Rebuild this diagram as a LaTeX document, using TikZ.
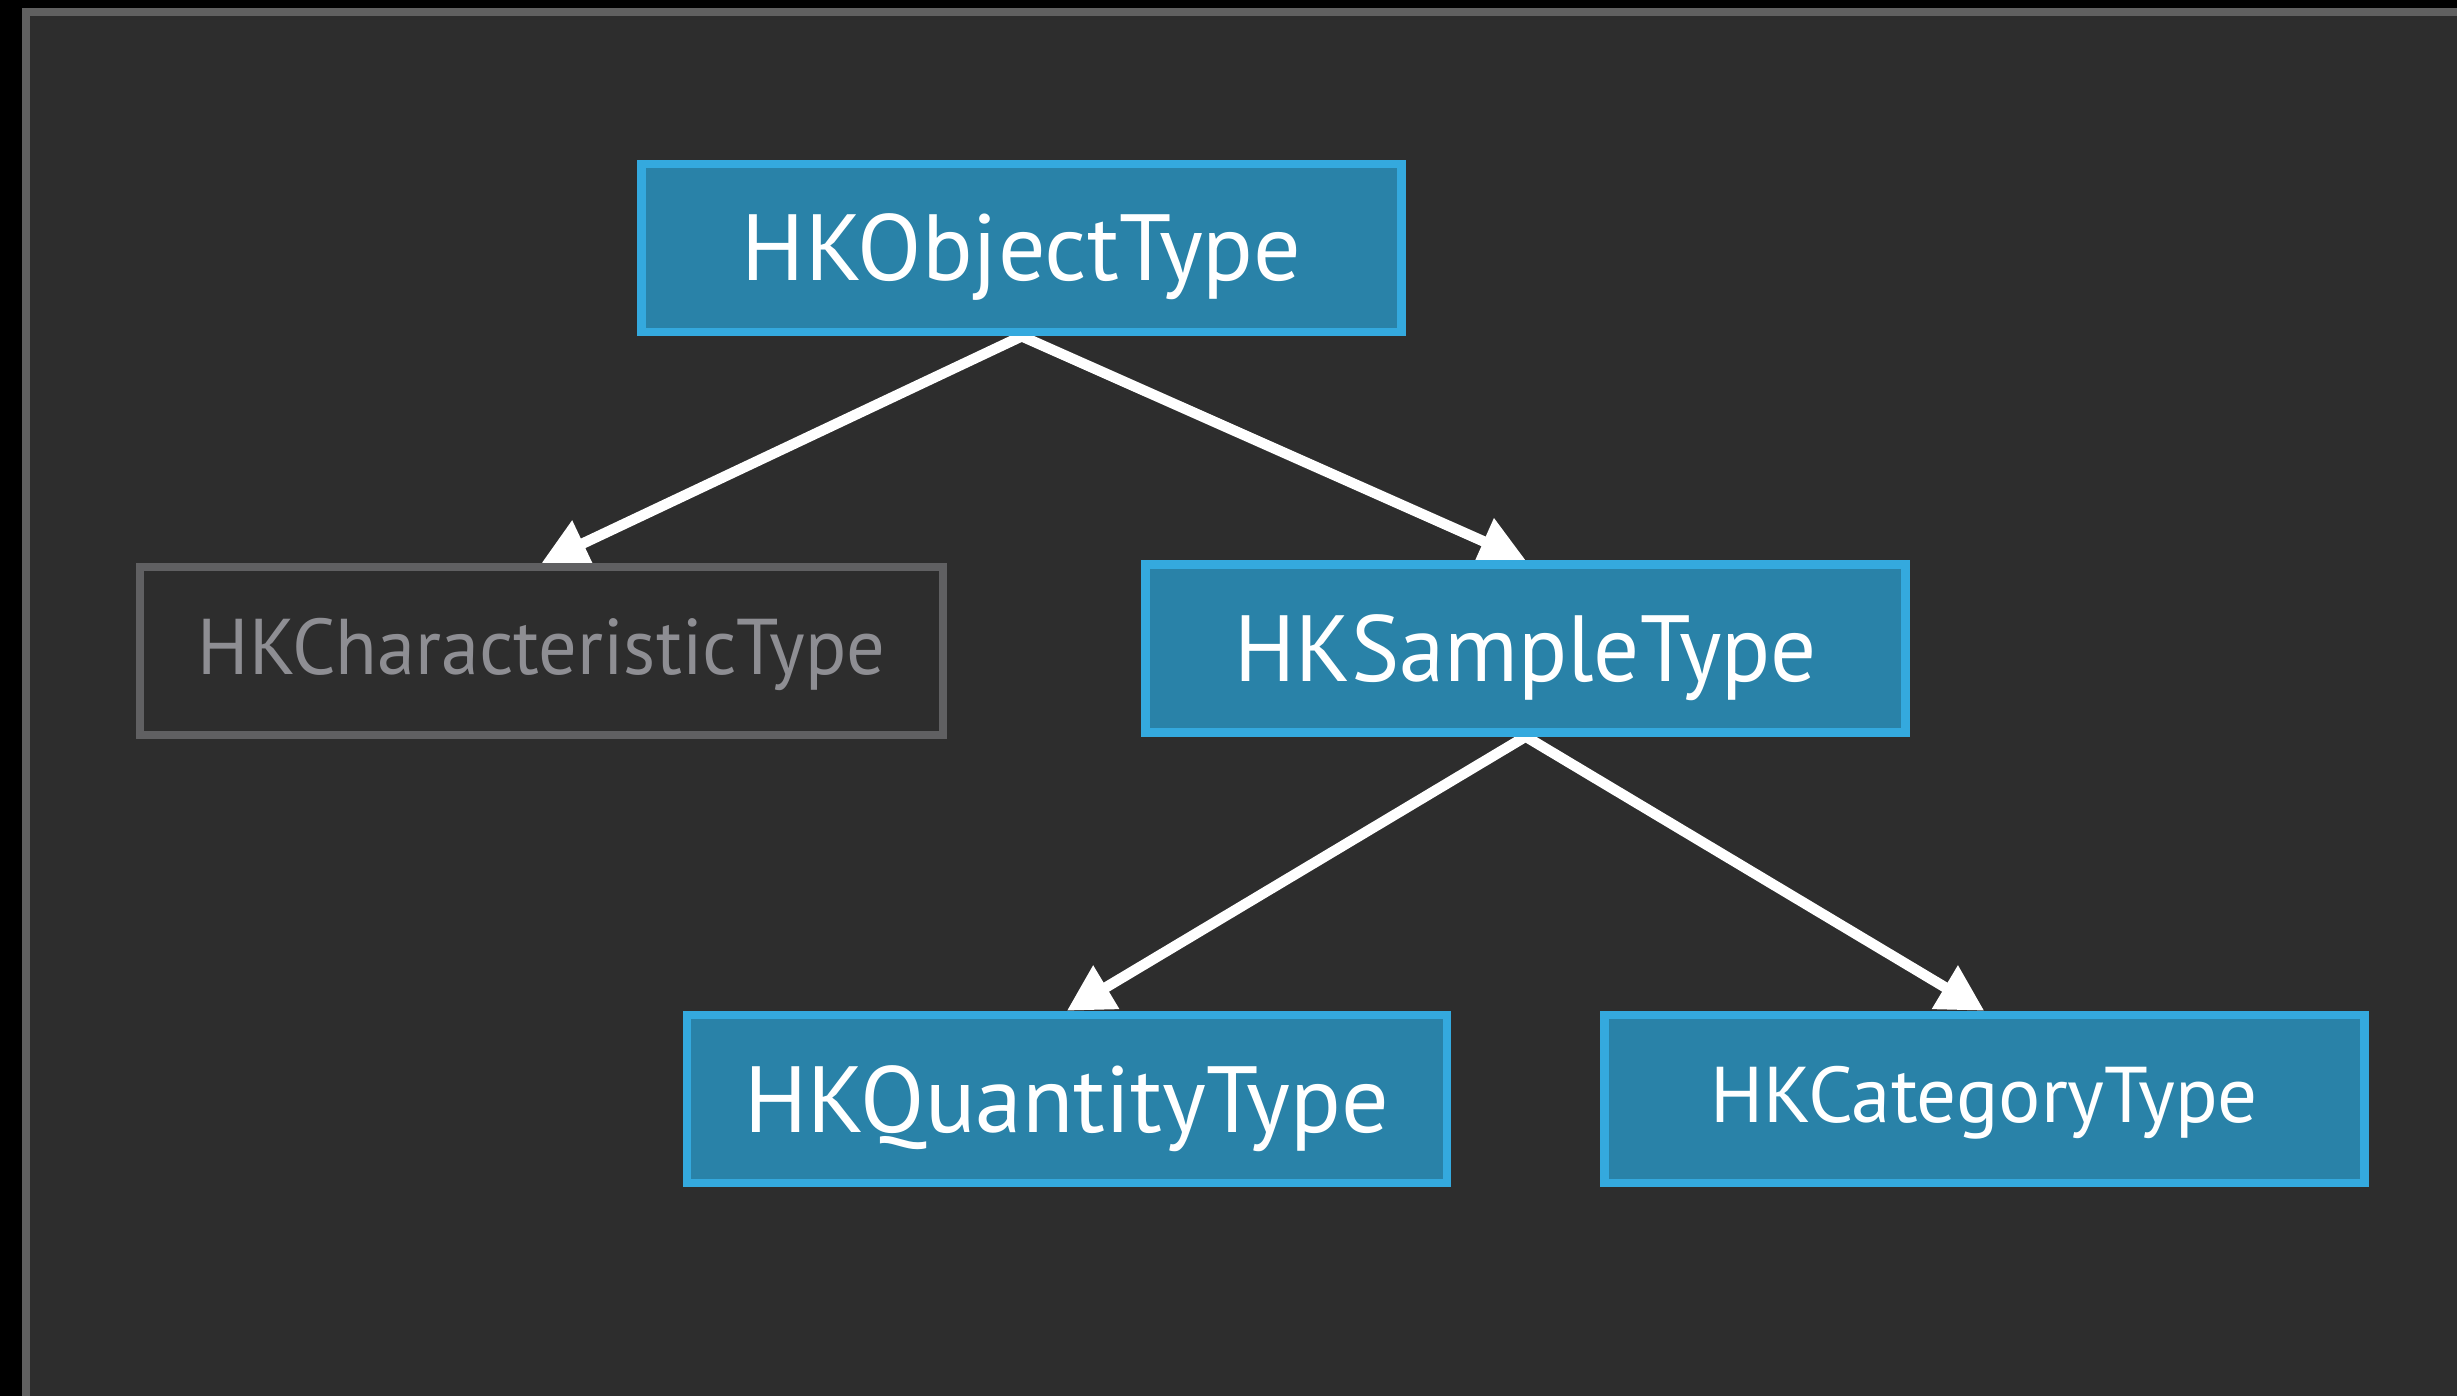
\documentclass[tikz,border=0pt]{standalone}
\usepackage{fontspec}
\setmainfont{PT Sans}
\newfontfamily\narrowsans[FakeStretch=0.967]{PT Sans}
\usetikzlibrary{arrows.meta,backgrounds}

\definecolor{outerbg}{RGB}{0,0,0}
\definecolor{panel}{RGB}{45,45,45}
\definecolor{frameline}{RGB}{96,96,96}
\definecolor{boxfill}{RGB}{41,130,168}
\definecolor{boxline}{RGB}{52,169,222}
\definecolor{mutedline}{RGB}{96,96,98}
\definecolor{mutedtext}{RGB}{142,142,147}

\begin{document}
\begin{tikzpicture}[x=1pt,y=-1pt,
  bigtext/.style={font=\fontsize{94}{100}\selectfont, text height=66pt, text depth=0pt},
  bignarrow/.style={font=\narrowsans\fontsize{94}{100}\selectfont, text height=66pt, text depth=0pt},
  smalltext/.style={font=\fontsize{79}{84}\selectfont, text height=55.5pt, text depth=8pt},
  smallnarrow/.style={font=\narrowsans\fontsize{79}{84}\selectfont, text height=55.5pt, text depth=8pt},
  typebox/.style={draw=boxline, fill=boxfill, line width=8.5pt,
    minimum width=760pt, minimum height=168pt, inner sep=0pt, text=white},
  mutedbox/.style={draw=mutedline, fill=panel, line width=8pt,
    minimum width=803pt, minimum height=168pt, inner sep=0pt, text=mutedtext},
  link/.style={draw=white, line width=10.5pt, miter limit=10,
    {Triangle[length=46pt,width=48pt]}-{Triangle[length=46pt,width=48pt]}}]

  \useasboundingbox (0,0) rectangle (2457,1396);
  \clip (0,0) rectangle (2457,1396);

  % window frame and dark panel
  \begin{scope}[on background layer]
    \fill[outerbg] (0,0) rectangle (2457,1396);
    \fill[frameline] (22,8) rectangle (2480,1420);
    \fill[panel] (30,16) rectangle (2480,1420);
  \end{scope}

  % type hierarchy
  \node[typebox, bigtext] (obj) at (1021.7,248) {HKObjectType};
  \node[mutedbox, smallnarrow] (chr) at (541.5,651) {HKCharacteristicType};
  \node[typebox, bignarrow] (smp) at (1525.6,648.3) {HKSampleType};
  \node[typebox, bigtext] (qty) at (1066.8,1099) {HKQuantityType};
  \node[typebox, smalltext] (cat) at (1984.3,1099) {HKCategoryType};

  % subclass connectors, kept under the boxes
  \begin{scope}[on background layer]
    \draw[link] (chr.north) -- (obj.south) -- (smp.north);
    \draw[link] (qty.north) -- (smp.south) -- (cat.north);
  \end{scope}
\end{tikzpicture}
\end{document}
